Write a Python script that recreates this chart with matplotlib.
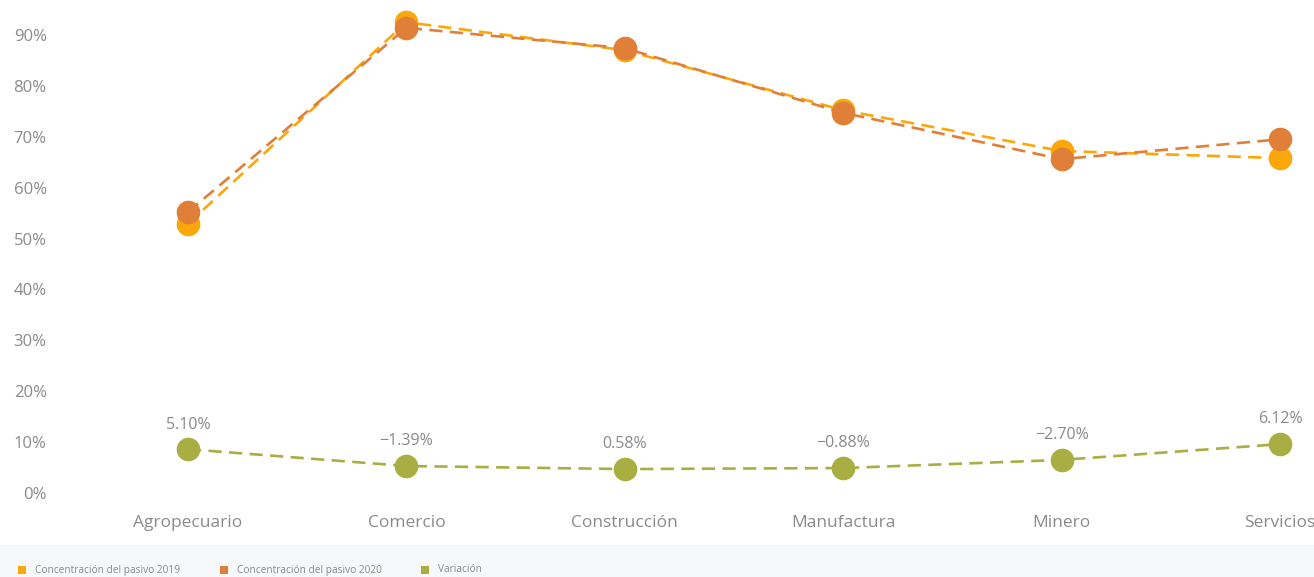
import matplotlib.pyplot as plt
from matplotlib.patches import Rectangle
import numpy as np

plt.rcParams['font.family'] = ['Open Sans', 'DejaVu Sans']

sectores = ['Agropecuario', 'Comercio', 'Construcción', 'Manufactura', 'Minero', 'Servicios']
pasivo_2019 = [52.9, 92.5, 87.0, 75.2, 67.2, 65.8]
pasivo_2020 = [55.2, 91.4, 87.4, 74.7, 65.6, 69.5]
variacion = [8.6, 5.3, 4.7, 4.9, 6.5, 9.6]
variacion_txt = ['5.10%', '-1.39%', '0.58%', '-0.88%', '-2.70%', '6.12%']
yticks = [0, 10, 20, 30, 40, 50, 60, 70, 80, 90]

c2019 = '#FBA70A'
c2020 = '#E07F38'
cvar = '#A9AE42'
gris = '#8A8A8A'

W, H = 1314, 577
fig = plt.figure(figsize=(W / 100, H / 100), dpi=100)

# franja de la leyenda
fig.patches.append(Rectangle((0, 0), 1, 32 / H, transform=fig.transFigure,
                             facecolor='#F7F8FA', edgecolor='none', zorder=0))

ax = fig.add_axes([80 / W, (H - 505) / H, 1 - 80 / W, 505 / H])
x = np.arange(len(sectores))

dash = (0, (5, 2.8))
ax.plot(x, pasivo_2019, color=c2019, ls=dash, lw=1.9, marker='o', ms=16, zorder=3)
ax.plot(x, pasivo_2020, color=c2020, ls=dash, lw=1.9, marker='o', ms=16, zorder=4)
ax.plot(x, variacion, color=cvar, ls=dash, lw=1.9, marker='o', ms=16, zorder=3)

for xi, yi, t in zip(x, variacion, variacion_txt):
    ax.annotate(t.replace('-', '\u2212'), (xi, yi), xytext=(0, 12), textcoords='offset points',
                ha='center', va='bottom', fontsize=11.5, color=gris)

ax.set_xlim(-(188 - 80) / 218.4, 5 + 34 / 218.4)
ax.set_ylim(-2.36, 96.87)
ax.set_xticks(x)
ax.set_xticklabels(sectores, fontsize=12.5, color=gris)
ax.set_yticks(yticks)
ax.set_yticklabels([f'{v}%' for v in yticks], fontsize=12, color=gris)
ax.tick_params(axis='y', length=0, pad=24)
ax.tick_params(axis='x', length=0, pad=7)
for s in ax.spines.values():
    s.set_visible(False)

# leyenda
items = [(22, c2019, 'Concentración del pasivo 2019'),
         (224, c2020, 'Concentración del pasivo 2020'),
         (425, cvar, 'Variación')]
for px, col, lab in items:
    fig.patches.append(Rectangle(((px - 4) / W, 3 / H), 8 / W, 8 / H, transform=fig.transFigure,
                                 facecolor=col, edgecolor='none'))
    fig.text((px + 13) / W, 7 / H, lab, fontsize=7.3, color=gris, va='center', ha='left')

fig.savefig('out.png', dpi=100)
